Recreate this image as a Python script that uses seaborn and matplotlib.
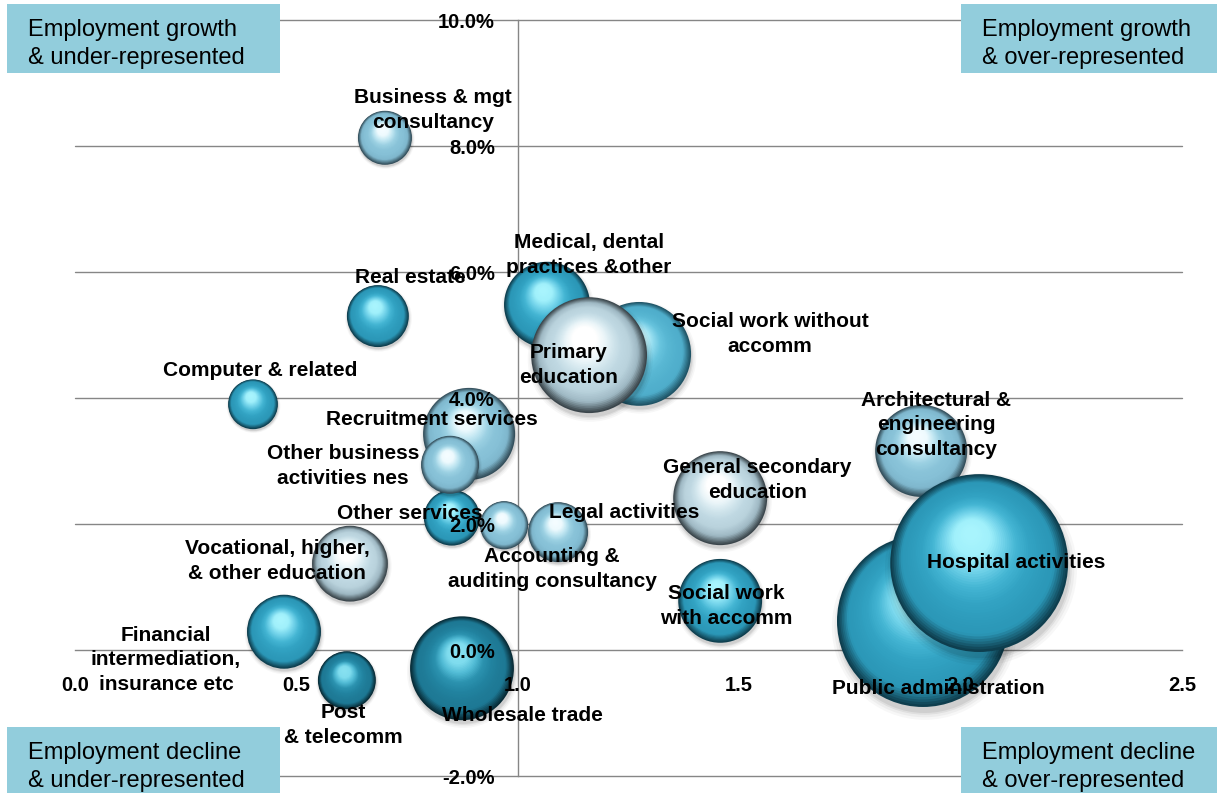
import numpy as np
import matplotlib
matplotlib.use("Agg")
import matplotlib.pyplot as plt
from matplotlib.colors import to_rgba
from matplotlib.patches import Rectangle
import seaborn as sns

# ---- data ----
sectors = [
    "Computer & related", "Real estate", "Business & mgt\nconsultancy",
    "Medical, dental\npractices &other", "Social work without\naccomm",
    "Primary\neducation", "Recruitment services", "Other services",
    "Other business\nactivities nes", "Accounting &\nauditing consultancy",
    "Legal activities", "Vocational, higher,\n& other education",
    "Financial\nintermediation,\ninsurance etc", "Post\n& telecomm",
    "Wholesale trade", "General secondary\neducation", "Social work\nwith accomm",
    "Architectural &\nengineering\nconsultancy", "Public administration",
    "Hospital activities",
]
location_quotient = [0.402, 0.684, 0.700, 1.066, 1.274, 1.161, 0.890, 0.851, 0.847, 0.969,
                     1.091, 0.621, 0.472, 0.614, 0.874, 1.457, 1.457, 1.911, 1.915, 2.042]
employment_growth = [3.90, 5.30, 8.13, 5.48, 4.70, 4.68, 3.43, 2.10, 2.94, 1.98,
                     1.87, 1.37, 0.29, -0.48, -0.29, 2.41, 0.78, 3.16, 0.46, 1.38]
employment = [62, 96, 73, 185, 270, 336, 212, 78, 84, 58,
              90, 144, 137, 84, 270, 221, 176, 212, 740, 792]

xticks = [0.0, 0.5, 1.0, 1.5, 2.0, 2.5]
yticks = [-2, 0, 2, 4, 6, 8, 10]

quadrant_labels = [
    "Employment growth\n& under-represented",
    "Employment growth\n& over-represented",
    "Employment decline\n& under-represented",
    "Employment decline\n& over-represented",
]

# ---- styling ----
TONES = {
    "teal":   ["#0e3e4e", "#2b97b7", "#2e9cbc", "#33a4c4", "#45b6d4", "#72d3ea", "#a0f0fb", "#a8f4fd"],
    "deep":   ["#082b36", "#1d7894", "#1f7c98", "#2284a1", "#2c93b0", "#52bcd6", "#7fdcee", "#86e0f0"],
    "aqua":   ["#1f5466", "#4fadcb", "#52b1ce", "#58b7d3", "#68c4de", "#92dcee", "#c4f4fc", "#ccf6fd"],
    "sky":    ["#344f5b", "#7fb7cd", "#86c0d6", "#8ac4d9", "#9cd1e3", "#c4e8f3", "#eefafe", "#f4fcff"],
    "silver": ["#3b464c", "#9fb9c4", "#b9d2dc", "#bfd8e2", "#d2e6ed", "#ecf6f9", "#ffffff", "#ffffff"],
}
tone = {
    "Computer & related": "teal", "Real estate": "teal", "Business & mgt\nconsultancy": "sky",
    "Medical, dental\npractices &other": "teal", "Social work without\naccomm": "aqua",
    "Primary\neducation": "silver", "Recruitment services": "sky", "Other services": "teal",
    "Other business\nactivities nes": "sky", "Accounting &\nauditing consultancy": "sky",
    "Legal activities": "sky", "Vocational, higher,\n& other education": "silver",
    "Financial\nintermediation,\ninsurance etc": "teal", "Post\n& telecomm": "deep",
    "Wholesale trade": "deep", "General secondary\neducation": "silver",
    "Social work\nwith accomm": "teal", "Architectural &\nengineering\nconsultancy": "sky",
    "Public administration": "teal", "Hospital activities": "teal",
}
# label offset from bubble centre, pixels (right, down)
label_offset = {
    "Computer & related": (7, -34), "Real estate": (32, -39),
    "Business & mgt\nconsultancy": (48, -28), "Medical, dental\npractices &other": (42, -50),
    "Social work without\naccomm": (131, -20), "Primary\neducation": (-21, 10),
    "Recruitment services": (-37, -14), "Other services": (-42, -4),
    "Other business\nactivities nes": (-107, 1), "Accounting &\nauditing consultancy": (48, 44),
    "Legal activities": (66, -20), "Vocational, higher,\n& other education": (-73, -3),
    "Financial\nintermediation,\ninsurance etc": (-118, 28), "Post\n& telecomm": (-4, 45),
    "Wholesale trade": (60, 47), "General secondary\neducation": (37, -18),
    "Social work\nwith accomm": (6, 5), "Architectural &\nengineering\nconsultancy": (15, -26),
    "Public administration": (15, 67), "Hospital activities": (37, -1),
}

W, H, DPI = 1222, 793, 100
GRID = "#868686"
BOX = "#92CDDC"
PX_PER_SQRT = 3.16   # bubble radius in pixels per sqrt(employment)

sns.set_theme(style="white")
plt.rcParams["font.family"] = ["Liberation Sans", "DejaVu Sans"]
plt.rcParams["text.color"] = "black"
plt.rcParams["xtick.labelcolor"] = "black"
plt.rcParams["ytick.labelcolor"] = "black"

fig = plt.figure(figsize=(W / DPI, H / DPI), dpi=DPI)
ax = fig.add_axes([75 / W, 17 / H, 1107 / W, 756 / H])
ax.set_xlim(xticks[0], xticks[-1])
ax.set_ylim(yticks[0], yticks[-1])

# gridlines behind bubbles
for v in yticks:
    if v != 0:
        ax.axhline(v, color=GRID, lw=1.0, zorder=0.5, clip_on=False)

# axis lines crossing at (1.0, 0)
ax.spines["left"].set_position(("data", 1.0))
ax.spines["bottom"].set_position(("data", 0.0))
ax.spines["top"].set_visible(False)
ax.spines["right"].set_visible(False)
for sp in ("left", "bottom"):
    ax.spines[sp].set_color(GRID)
    ax.spines[sp].set_linewidth(1.0)
    ax.spines[sp].set_zorder(0.6)

ax.set_xticks(xticks)
ax.set_xticklabels([f"{v:.1f}" for v in xticks], fontsize=14.5, fontweight="bold")
ax.set_yticks(yticks)
ax.set_yticklabels([f"{v:.1f}%" for v in yticks], fontsize=14.5, fontweight="bold")
ax.tick_params(axis="x", direction="out", length=4, width=1, color=GRID, pad=15)
ax.tick_params(axis="y", length=0, pad=16.5)
ax.xaxis.set_zorder(4)
ax.yaxis.set_zorder(4)
ax.patch.set_alpha(0)


def draw_sphere(x, y, r, colors, n=44):
    """Shaded bubble: soft shadow + stacked circles drifting to a top highlight."""
    cx, cy = ax.transData.transform((x, y))
    pal = sns.blend_palette(colors, n_colors=n)
    hx, hy = -0.10 * r, 0.36 * r
    pts, sizes, cols = [], [], []
    for grow, a in [(1.08, 0.03), (1.05, 0.04), (1.02, 0.06), (1.0, 0.07)]:
        pts.append((cx + 0.02 * r, cy - 0.07 * r))
        sizes.append((2 * r * grow * 72 / DPI) ** 2)
        cols.append((0, 0, 0, a))
    for k, s in enumerate(np.linspace(1.0, 0.08, n)):
        pts.append((cx + (1 - s) * hx, cy + (1 - s) * hy))
        sizes.append((2 * r * s * 72 / DPI) ** 2)
        cols.append(to_rgba(pal[k]))
    data = ax.transData.inverted().transform(np.array(pts))
    ax.scatter(data[:, 0], data[:, 1], s=sizes, c=cols, linewidths=0, zorder=2)


for name, lq, g, e in zip(sectors, location_quotient, employment_growth, employment):
    draw_sphere(lq, g, np.sqrt(e) * PX_PER_SQRT, TONES[tone[name]])

for name, lq, g in zip(sectors, location_quotient, employment_growth):
    dx, dy = label_offset[name]
    ax.annotate(name, (lq, g), xytext=(dx, -dy), textcoords="offset pixels",
                ha="center", va="center", multialignment="center",
                fontsize=15, fontweight="bold", linespacing=1.38, zorder=6)

# quadrant boxes (pixel rectangles: left, top, right, bottom)
boxes = [(7, 4, 280, 73), (961, 4, 1217, 73), (7, 727, 280, 797), (961, 727, 1217, 797)]
for text, (x0, y0, x1, y1) in zip(quadrant_labels, boxes):
    fig.add_artist(Rectangle((x0 / W, 1 - y1 / H), (x1 - x0) / W, (y1 - y0) / H,
                             transform=fig.transFigure, facecolor=BOX, edgecolor="none",
                             zorder=5))
    fig.text((x0 + 21) / W, 1 - (y0 + 40) / H, text, ha="left", va="center",
             fontsize=17, linespacing=1.35, zorder=6)

fig.savefig("out.png", dpi=DPI)
